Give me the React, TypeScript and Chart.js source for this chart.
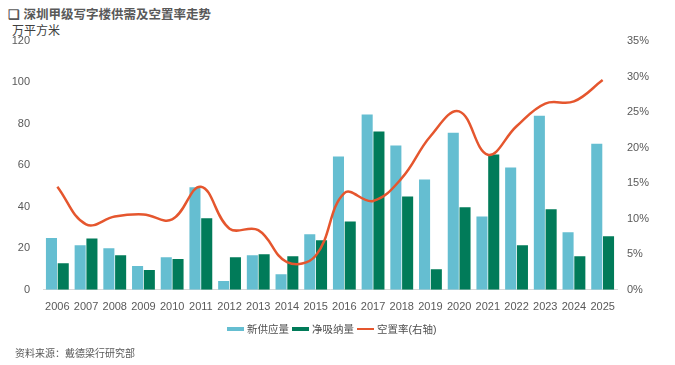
import React, { useEffect, useRef } from "react";
import { Chart, registerables } from "chart.js";

Chart.register(...registerables);

const years = ["2006","2007","2008","2009","2010","2011","2012","2013","2014","2015","2016","2017","2018","2019","2020","2021","2022","2023","2024","2025"];
const newSupply = [25, 21.5, 20, 11.5, 15.7, 49.5, 4.2, 16.7, 7.5, 26.8, 64.3, 84.5, 69.6, 53.2, 75.8, 35.4, 59, 84, 27.7, 70.5];
const netAbsorption = [12.8, 24.8, 16.7, 9.5, 14.8, 34.5, 15.7, 17.2, 16.2, 23.9, 33, 76.3, 45, 9.9, 39.8, 65.2, 21.5, 38.8, 16.2, 25.8];
const vacancy = [14.5, 9.2, 10.3, 10.6, 9.9, 14.5, 8.6, 8.4, 3.9, 4.8, 13.6, 12.5, 15.7, 21.6, 25.1, 19, 23, 26.2, 26.5, 29.5];
const seriesNames = ["新供应量", "净吸纳量", "空置率(右轴)"];
const seriesColors = ["#65BED1", "#017B59", "#E5562E"];

const FONT = "'Liberation Sans', Arial, 'Noto Sans CJK SC', sans-serif";

export default function App() {
  const ref = useRef<HTMLCanvasElement | null>(null);
  useEffect(() => {
    if (!ref.current) return;
    const chart = new Chart(ref.current, {
      type: "bar",
      data: {
        labels: years,
        datasets: [
          {
            type: "bar",
            label: seriesNames[0],
            data: newSupply,
            backgroundColor: seriesColors[0],
            yAxisID: "y",
            categoryPercentage: 0.82,
            barPercentage: 0.94,
            order: 1,
          },
          {
            type: "bar",
            label: seriesNames[1],
            data: netAbsorption,
            backgroundColor: seriesColors[1],
            yAxisID: "y",
            categoryPercentage: 0.82,
            barPercentage: 0.94,
            order: 1,
          },
          {
            type: "line",
            label: seriesNames[2],
            data: vacancy,
            borderColor: seriesColors[2],
            backgroundColor: seriesColors[2],
            borderWidth: 2.5,
            pointRadius: 0,
            tension: 0.4,
            yAxisID: "y1",
            order: 0,
          } as any,
        ],
      },
      options: {
        animation: false,
        responsive: false,
        maintainAspectRatio: false,
        layout: { padding: { left: 0, right: 20, top: 41, bottom: 48 } },
        plugins: {
          tooltip: { enabled: false },
          legend: { display: false },
        },
        scales: {
          x: {
            grid: { display: false },
            border: { display: true, color: "#D9D9D9" },
            ticks: { font: { family: FONT, size: 11 }, color: "#595959", maxRotation: 0, autoSkip: false },
          },
          y: {
            position: "left",
            min: 0,
            max: 120,
            grid: { display: false },
            border: { display: false },
            ticks: { stepSize: 20, font: { family: FONT, size: 11 }, color: "#595959", padding: 5 },
            afterFit: (s: any) => { s.width = 43; },
          },
          y1: {
            position: "right",
            min: 0,
            max: 35,
            grid: { display: false },
            border: { display: false },
            ticks: { stepSize: 5, font: { family: FONT, size: 11 }, color: "#595959", padding: 2, callback: (v: any) => v + "%" },
            afterFit: (s: any) => { s.width = 38; },
          },
        },
      },
    });
    return () => chart.destroy();
  }, []);

  const legendItem = (i: number) => (
    <div key={i} style={{ display: "flex", alignItems: "center", marginRight: 3 }}>
      <span
        style={{
          display: "inline-block",
          width: 17,
          height: i === 2 ? 2 : 4,
          background: seriesColors[i],
          marginRight: 3,
        }}
      />
      <span style={{ fontSize: 10.5, color: "#505050", lineHeight: "12px" }}>{seriesNames[i]}</span>
    </div>
  );

  return (
    <div style={{ position: "fixed", left: 0, top: 0, width: 675, height: 365, background: "#fff", fontFamily: FONT }}>
      <div style={{ position: "absolute", left: 8, top: 4, fontSize: 12.5, fontWeight: "bold", color: "#595959", whiteSpace: "nowrap" }}>
        ❑ 深圳甲级写字楼供需及空置率走势
      </div>
      <div style={{ position: "absolute", left: 12, top: 21, fontSize: 12, color: "#404040", whiteSpace: "nowrap" }}>万平方米</div>
      <canvas ref={ref} width={675} height={365} style={{ position: "absolute", left: 0, top: 0 }} />
      <div style={{ position: "absolute", left: 227, top: 323, display: "flex", whiteSpace: "nowrap" }}>
        {seriesNames.map((_, i) => legendItem(i))}
      </div>
      <div style={{ position: "absolute", left: 15, top: 345, fontSize: 10, color: "#595959", whiteSpace: "nowrap" }}>
        资料来源：戴德梁行研究部
      </div>
    </div>
  );
}
